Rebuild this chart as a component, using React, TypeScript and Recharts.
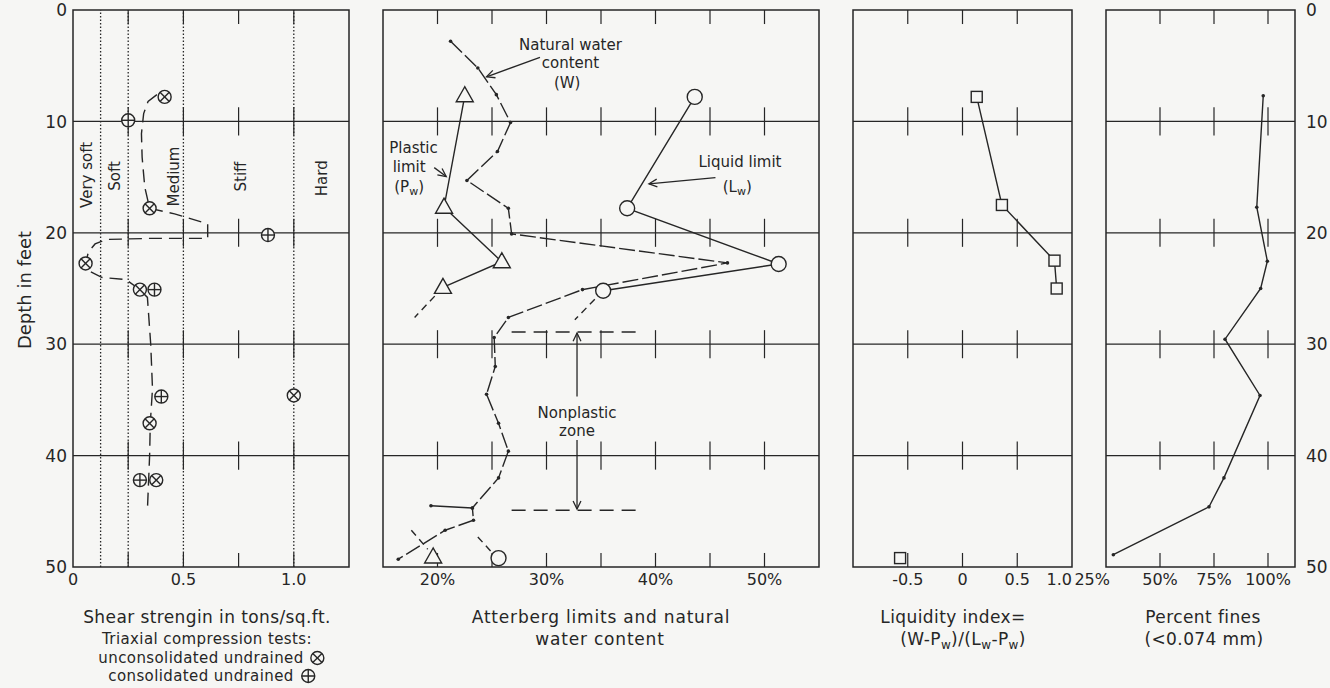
import React from "react";
import { ScatterChart, Scatter, XAxis, YAxis, ReferenceLine, ReferenceArea } from "recharts";

const INK = "#262626";
const PAPER = "#f6f6f4";
const FONT = "'DejaVu Sans', 'Noto Sans', sans-serif";

// depth in feet, shared by all panels
const depthTicks = [0, 10, 20, 30, 40, 50];
const gridDepths = [10, 20, 30, 40];

// shear strength (tons/sq.ft.)
const uuDepth = [7.8, 17.8, 22.75, 25.1, 34.6, 37.1, 42.2];
const uuShear = [0.415, 0.347, 0.057, 0.303, 1.0, 0.347, 0.377];
const cuDepth = [9.9, 20.2, 25.1, 34.7, 42.2];
const cuShear = [0.25, 0.883, 0.369, 0.4, 0.303];
const trendDepth = [7.6, 8.2, 9.3, 11.1, 13.2, 15.9, 17.8, 18.3, 19.2, 20.5, 20.5, 20.6, 21.0, 21.7, 22.75, 23.5, 24.0, 24.2, 25.1, 25.8, 30, 34, 37.1, 40, 44.9];
const trendShear = [0.38, 0.34, 0.32, 0.31, 0.313, 0.325, 0.347, 0.46, 0.61, 0.61, 0.35, 0.15, 0.1, 0.07, 0.057, 0.08, 0.13, 0.24, 0.303, 0.337, 0.352, 0.36, 0.35, 0.347, 0.337];
const consistencyBounds = [0.125, 0.25, 0.5, 1.0];

// Atterberg limits and natural water content (%)
const waterDepth = [2.8, 5.2, 7.6, 10.1, 12.7, 15.3, 17.8, 20.1, 22.7, 25.1, 27.6, 29.4, 32.0, 34.5, 37.1, 39.6, 42.0, 44.7, 45.8, 46.7, 49.3];
const waterValue = [21.2, 23.7, 25.4, 26.7, 25.5, 22.7, 26.5, 26.8, 46.6, 33.3, 26.5, 25.2, 25.3, 24.5, 25.6, 26.5, 25.6, 23.2, 23.3, 20.7, 16.4];
const waterBranchDepth = [44.5, 44.7];
const waterBranchValue = [19.4, 23.2];
const plasticDepth = [7.7, 17.7, 22.6, 24.9];
const plasticValue = [22.5, 20.6, 25.9, 20.5];
const plasticLoneDepth = [49.1];
const plasticLoneValue = [19.6];
const plasticExtDepth = [24.9, 27.6];
const plasticExtValue = [20.5, 17.9];
const plasticLowExtDepth = [46.7, 48.4];
const plasticLowExtValue = [17.6, 19.1];
const liquidDepth = [7.8, 17.8, 22.8, 25.2];
const liquidValue = [43.6, 37.4, 51.3, 35.2];
const liquidLoneDepth = [49.2];
const liquidLoneValue = [25.6];
const liquidExtDepth = [25.2, 27.8];
const liquidExtValue = [35.2, 32.6];
const liquidLowExtDepth = [47.3, 48.6];
const liquidLowExtValue = [23.7, 24.9];
const nonplasticDepths = [28.9, 44.9];
const nonplasticRange = [26.8, 38.8];

// liquidity index
const liDepth = [7.8, 17.5, 22.5, 25.0];
const liValue = [0.13, 0.36, 0.84, 0.86];
const liLoneDepth = [49.2];
const liLoneValue = [-0.57];

// percent fines (<0.074 mm)
const finesDepth = [7.7, 17.7, 22.55, 25.0, 29.55, 34.6, 42.0, 44.6, 48.9];
const finesValue = [97.8, 94.8, 99.7, 96.6, 80.1, 96.3, 79.6, 72.7, 28.4];

const zip = (xs: number[], ds: number[]) => xs.map((x, i) => ({ x, y: ds[i] }));

const TOP = 10;
const BOTTOM = 567;
const CH = 688;
const XH = 36;
const H = 1.26; // half length of the cross ticks, in feet

type Panel = { x0: number; x1: number; domain: [number, number] };
const P1: Panel = { x0: 73, x1: 349, domain: [0, 1.25] };
const P2: Panel = { x0: 383, x1: 819, domain: [15, 55] };
const P3: Panel = { x0: 853, x1: 1072, domain: [-1, 1] };
const P4: Panel = { x0: 1106, x1: 1295, domain: [25, 112.5] };

const at = (p: Panel, v: number, d: number) => ({
  x: p.x0 + ((v - p.domain[0]) / (p.domain[1] - p.domain[0])) * (p.x1 - p.x0),
  y: TOP + (d / 50) * (BOTTOM - TOP),
});

const noMark = () => <g />;

const circleMark = (kind: "x" | "+") => (p: any) => {
  const { cx, cy } = p;
  if (cx == null || cy == null) return <g />;
  const r = 6.5;
  const k = kind === "x" ? r * 0.707 : r;
  return (
    <g stroke={INK} strokeWidth={1.4}>
      <circle cx={cx} cy={cy} r={r} fill={PAPER} />
      {kind === "x" ? (
        <>
          <line x1={cx - k} y1={cy - k} x2={cx + k} y2={cy + k} />
          <line x1={cx - k} y1={cy + k} x2={cx + k} y2={cy - k} />
        </>
      ) : (
        <>
          <line x1={cx - k} y1={cy} x2={cx + k} y2={cy} />
          <line x1={cx} y1={cy - k} x2={cx} y2={cy + k} />
        </>
      )}
    </g>
  );
};

const openCircle = (p: any) =>
  p.cx == null ? <g /> : <circle cx={p.cx} cy={p.cy} r={7.5} fill={PAPER} stroke={INK} strokeWidth={1.4} />;

const triangle = (p: any) => {
  if (p.cx == null) return <g />;
  const { cx, cy } = p;
  return (
    <polygon
      points={`${cx},${cy - 9} ${cx - 8.5},${cy + 6} ${cx + 8.5},${cy + 6}`}
      fill={PAPER}
      stroke={INK}
      strokeWidth={1.4}
    />
  );
};

const square = (p: any) =>
  p.cx == null ? <g /> : (
    <rect x={p.cx - 5.5} y={p.cy - 5.5} width={11} height={11} fill={PAPER} stroke={INK} strokeWidth={1.4} />
  );

const dot = (p: any) => (p.cx == null ? <g /> : <circle cx={p.cx} cy={p.cy} r={1.8} fill={INK} />);

const solid = { stroke: INK, strokeWidth: 1.4 };
const dashed = { stroke: INK, strokeWidth: 1.4, strokeDasharray: "7 5" };

function frame(prefix: string, p: Panel, crosses: number[]) {
  const items: React.ReactNode[] = [
    <ReferenceArea
      key={`${prefix}-box`}
      x1={p.domain[0]}
      x2={p.domain[1]}
      y1={0}
      y2={50}
      fill="none"
      fillOpacity={0}
      stroke={INK}
      strokeWidth={1.5}
      ifOverflow="visible"
    />,
  ];
  gridDepths.forEach((d) =>
    items.push(<ReferenceLine key={`${prefix}-g${d}`} y={d} stroke={INK} strokeWidth={1.2} />)
  );
  crosses.forEach((v) =>
    depthTicks.forEach((d) =>
      items.push(
        <ReferenceLine
          key={`${prefix}-c${v}-${d}`}
          segment={[
            { x: v, y: Math.max(0, d - H) },
            { x: v, y: Math.min(50, d + H) },
          ]}
          stroke={INK}
          strokeWidth={1.2}
          ifOverflow="visible"
        />
      )
    )
  );
  return items;
}

const xTick = (fmt: (v: number) => string, edge?: number, shift = 0) => (p: any) => {
  const v = p.payload.value;
  const isEdge = edge !== undefined && v === edge;
  return (
    <text
      x={p.x + (isEdge ? shift : 0)}
      y={p.y}
      dy="0.71em"
      textAnchor={isEdge ? "end" : "middle"}
      fontSize={16}
      fontFamily={FONT}
      fill={INK}
    >
      {fmt(v)}
    </text>
  );
};

const yTick = (anchor: "start" | "end") => (p: any) => (
  <text x={p.x} y={p.y} dy="0.36em" textAnchor={anchor} fontSize={17} fontFamily={FONT} fill={INK}>
    {p.payload.value}
  </text>
);

const pct = (v: number) => `${v}%`;

function xAxis(p: Panel, ticks: number[], fmt: (v: number) => string, edge?: number, shift = 0) {
  return (
    <XAxis
      type="number"
      dataKey="x"
      domain={p.domain}
      ticks={ticks}
      interval={0}
      allowDataOverflow
      axisLine={false}
      tickLine={false}
      tickSize={0}
      tickMargin={7}
      height={XH}
      tick={xTick(fmt, edge, shift)}
    />
  );
}

function Arrow({ from, to }: { from: { x: number; y: number }; to: { x: number; y: number } }) {
  const a = Math.atan2(to.y - from.y, to.x - from.x);
  const L = 9;
  const s = 0.45;
  const h1 = { x: to.x - L * Math.cos(a - s), y: to.y - L * Math.sin(a - s) };
  const h2 = { x: to.x - L * Math.cos(a + s), y: to.y - L * Math.sin(a + s) };
  return (
    <g stroke={INK} strokeWidth={1.3} fill="none">
      <line x1={from.x} y1={from.y} x2={to.x} y2={to.y} />
      <polyline points={`${h1.x},${h1.y} ${to.x},${to.y} ${h2.x},${h2.y}`} />
    </g>
  );
}

function Note({ p, v, d, children, size = 15, rotate = false }: any) {
  const { x, y } = at(p, v, d);
  return (
    <text
      x={x}
      y={y}
      textAnchor="middle"
      dominantBaseline="central"
      fontSize={size}
      fontFamily={FONT}
      fill={INK}
      transform={rotate ? `rotate(-90 ${x} ${y})` : undefined}
    >
      {children}
    </text>
  );
}

function Symbol({ kind }: { kind: "x" | "+" }) {
  return (
    <svg width={16} height={16} style={{ verticalAlign: "-3px", marginLeft: 6 }}>
      {circleMark(kind)({ cx: 8, cy: 8 })}
    </svg>
  );
}

const caption = (x: number, y: number, size: number, content: React.ReactNode, spacing = 0.4) => (
  <div
    style={{
      position: "absolute",
      left: x,
      top: y,
      transform: "translate(-50%, -50%)",
      whiteSpace: "nowrap",
      fontFamily: FONT,
      fontSize: size,
      letterSpacing: spacing,
      color: INK,
      lineHeight: 1,
    }}
  >
    {content}
  </div>
);

const margin = (left: number, right: number) => ({ top: TOP, bottom: CH - BOTTOM - XH, left, right });

export default function App() {
  return (
    <div style={{ position: "absolute", left: 0, top: 0, width: 1330, height: 688, background: PAPER, overflow: "hidden" }}>
      {/* shear strength */}
      <div style={{ position: "absolute", left: 0, top: 0 }}>
        <ScatterChart width={369} height={CH} margin={margin(33, 20)}>
          {xAxis(P1, [0, 0.5, 1.0], (v) => (v === 0 ? "0" : v.toFixed(1)))}
          <YAxis
            type="number"
            dataKey="y"
            domain={[0, 50]}
            reversed
            ticks={depthTicks}
            interval={0}
            allowDataOverflow
            width={40}
            axisLine={false}
            tickLine={false}
            tickSize={0}
            tickMargin={6}
            tick={yTick("end")}
          />
          {consistencyBounds.map((v) => (
            <ReferenceLine key={`dot${v}`} x={v} stroke={INK} strokeWidth={1.3} strokeDasharray="1.5 2" />
          ))}
          {frame("p1", P1, [0.25, 0.5, 0.75, 1.0])}
          <Scatter data={zip(trendShear, trendDepth)} line={{ ...solid, strokeDasharray: "13 7" }} lineType="joint" shape={noMark} isAnimationActive={false} />
          <Scatter data={zip(uuShear, uuDepth)} shape={circleMark("x")} isAnimationActive={false} />
          <Scatter data={zip(cuShear, cuDepth)} shape={circleMark("+")} isAnimationActive={false} />
        </ScatterChart>
      </div>

      {/* Atterberg limits */}
      <div style={{ position: "absolute", left: 363, top: 0 }}>
        <ScatterChart width={476} height={CH} margin={margin(20, 20)}>
          {xAxis(P2, [20, 30, 40, 50], pct)}
          <YAxis type="number" dataKey="y" domain={[0, 50]} reversed hide allowDataOverflow />
          {frame("p2", P2, [20, 25, 30, 35, 40, 45, 50])}
          {nonplasticDepths.map((d) => (
            <ReferenceLine
              key={`np${d}`}
              segment={[
                { x: nonplasticRange[0], y: d },
                { x: nonplasticRange[1], y: d },
              ]}
              stroke={INK}
              strokeWidth={1.4}
              strokeDasharray="14 8"
            />
          ))}
          <Scatter data={zip(waterValue, waterDepth)} line={{ ...solid, strokeDasharray: "16 4" }} lineType="joint" shape={dot} isAnimationActive={false} />
          <Scatter data={zip(waterBranchValue, waterBranchDepth)} line={solid} lineType="joint" shape={dot} isAnimationActive={false} />
          <Scatter data={zip(plasticExtValue, plasticExtDepth)} line={dashed} lineType="joint" shape={noMark} isAnimationActive={false} />
          <Scatter data={zip(plasticLowExtValue, plasticLowExtDepth)} line={dashed} lineType="joint" shape={noMark} isAnimationActive={false} />
          <Scatter data={zip(liquidExtValue, liquidExtDepth)} line={dashed} lineType="joint" shape={noMark} isAnimationActive={false} />
          <Scatter data={zip(liquidLowExtValue, liquidLowExtDepth)} line={dashed} lineType="joint" shape={noMark} isAnimationActive={false} />
          <Scatter data={zip(plasticValue, plasticDepth)} line={solid} lineType="joint" shape={triangle} isAnimationActive={false} />
          <Scatter data={zip(plasticLoneValue, plasticLoneDepth)} shape={triangle} isAnimationActive={false} />
          <Scatter data={zip(liquidValue, liquidDepth)} line={solid} lineType="joint" shape={openCircle} isAnimationActive={false} />
          <Scatter data={zip(liquidLoneValue, liquidLoneDepth)} shape={openCircle} isAnimationActive={false} />
        </ScatterChart>
      </div>

      {/* liquidity index */}
      <div style={{ position: "absolute", left: 833, top: 0 }}>
        <ScatterChart width={259} height={CH} margin={margin(20, 20)}>
          {xAxis(P3, [-0.5, 0, 0.5, 1], (v) => (v === 0 ? "0" : v.toFixed(1)), 1, 0)}
          <YAxis type="number" dataKey="y" domain={[0, 50]} reversed hide allowDataOverflow />
          {frame("p3", P3, [-0.5, 0, 0.5])}
          <Scatter data={zip(liValue, liDepth)} line={solid} lineType="joint" shape={square} isAnimationActive={false} />
          <Scatter data={zip(liLoneValue, liLoneDepth)} shape={square} isAnimationActive={false} />
        </ScatterChart>
      </div>

      {/* percent fines */}
      <div style={{ position: "absolute", left: 1056, top: 0 }}>
        <ScatterChart width={279} height={CH} margin={margin(50, 0)}>
          {xAxis(P4, [25, 50, 75, 100], pct, 25, 4)}
          <YAxis
            type="number"
            dataKey="y"
            orientation="right"
            domain={[0, 50]}
            reversed
            ticks={depthTicks}
            interval={0}
            allowDataOverflow
            width={40}
            axisLine={false}
            tickLine={false}
            tickSize={0}
            tickMargin={11}
            tick={yTick("start")}
          />
          {frame("p4", P4, [50, 75, 100])}
          <Scatter data={zip(finesValue, finesDepth)} line={solid} lineType="joint" shape={dot} isAnimationActive={false} />
        </ScatterChart>
      </div>

      {/* annotations */}
      <svg width={1330} height={688} style={{ position: "absolute", left: 0, top: 0, pointerEvents: "none" }}>
        <text x={24} y={290} textAnchor="middle" dominantBaseline="central" fontSize={18} fontFamily={FONT} fill={INK} transform="rotate(-90 24 290)">
          Depth in feet
        </text>
        <Note p={P1} v={0.062} d={14.8} rotate>Very soft</Note>
        <Note p={P1} v={0.19} d={14.9} rotate>Soft</Note>
        <Note p={P1} v={0.457} d={14.95} rotate>Medium</Note>
        <Note p={P1} v={0.76} d={14.95} rotate>Stiff</Note>
        <Note p={P1} v={1.128} d={15.1} rotate>Hard</Note>

        <Note p={P2} v={32.2} d={3.15}>Natural water</Note>
        <Note p={P2} v={32.2} d={4.8}>content</Note>
        <Note p={P2} v={31.9} d={6.55}>(W)</Note>
        <Arrow from={at(P2, 29.4, 4.25)} to={at(P2, 24.5, 6.0)} />

        <Note p={P2} v={17.8} d={12.4}>Plastic</Note>
        <Note p={P2} v={17.4} d={14.1}>limit</Note>
        <text x={at(P2, 17.4, 15.9).x} y={at(P2, 17.4, 15.9).y} textAnchor="middle" dominantBaseline="central" fontSize={15} fontFamily={FONT} fill={INK}>
          (P<tspan fontSize={11} dy={4}>w</tspan><tspan dy={-4}>)</tspan>
        </text>
        <Arrow from={at(P2, 19.7, 14.15)} to={at(P2, 20.8, 14.95)} />

        <Note p={P2} v={47.75} d={13.6}>Liquid limit</Note>
        <text x={at(P2, 47.5, 15.9).x} y={at(P2, 47.5, 15.9).y} textAnchor="middle" dominantBaseline="central" fontSize={15} fontFamily={FONT} fill={INK}>
          (L<tspan fontSize={11} dy={4}>w</tspan><tspan dy={-4}>)</tspan>
        </text>
        <Arrow from={at(P2, 45.5, 15.05)} to={at(P2, 39.4, 15.6)} />

        <Note p={P2} v={32.8} d={36.15}>Nonplastic</Note>
        <Note p={P2} v={32.8} d={37.8}>zone</Note>
        <Arrow from={at(P2, 32.8, 34.7)} to={at(P2, 32.8, 29.0)} />
        <Arrow from={at(P2, 32.8, 38.6)} to={at(P2, 32.8, 44.8)} />
      </svg>

      {/* captions */}
      {caption(207, 617, 17, "Shear strengin in tons/sq.ft.")}
      {caption(207, 639, 15, "Triaxial compression tests:")}
      {caption(212, 658, 15, <>unconsolidated undrained<Symbol kind="x" /></>)}
      {caption(212, 676, 15, <>consolidated undrained<Symbol kind="+" /></>)}

      {caption(601, 617, 17, "Atterberg limits and natural", 0.8)}
      {caption(600, 639, 17, "water content", 0.8)}

      {caption(953, 617, 17, "Liquidity index=")}
      {caption(963, 641, 17, <>(W-P<sub style={{ fontSize: 12 }}>w</sub>)/(L<sub style={{ fontSize: 12 }}>w</sub>-P<sub style={{ fontSize: 12 }}>w</sub>)</>)}

      {caption(1203, 617, 17, "Percent fines")}
      {caption(1204, 639, 17, "(<0.074 mm)")}
    </div>
  );
}
